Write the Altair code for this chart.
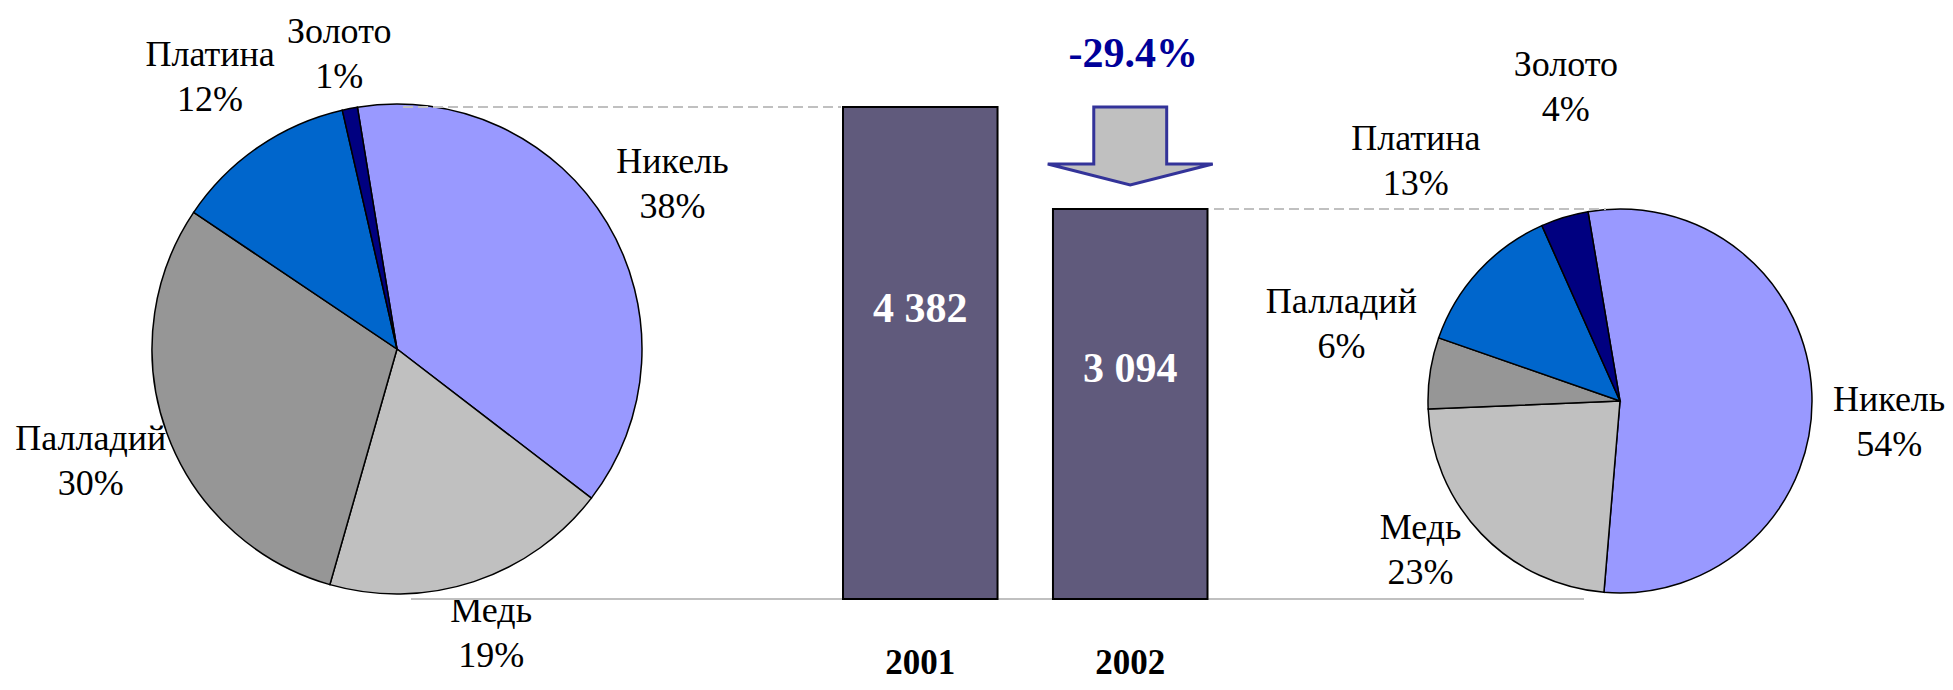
import math
import altair as alt
import pandas as pd

# ---------------- data ----------------
metals = ["Никель", "Медь", "Палладий", "Платина", "Золото"]
share_2001 = [38, 19, 30, 12, 1]
share_2002 = [54, 23, 6, 13, 4]
metal_colors = ["#9999FF", "#C0C0C0", "#969696", "#0066CC", "#000080"]

years = ["2001", "2002"]
totals = [4382, 3094]
axis_floor = -1831  # value axis minimum of the original column chart

FONT = "Liberation Serif"
LINE_H = 45


def pie_df(shares):
    return pd.DataFrame({
        "metal": metals,
        "share": shares,
        "idx": list(range(len(metals))),
        "label": [f"{m}\n{s}%" for m, s in zip(metals, shares)],
    })


def pie(df, cx, cy, r, start_deg, label_shift_deg, label_radii):
    start = math.radians(start_deg)
    lstart = math.radians(start_deg + label_shift_deg)
    theta = alt.Theta("share:Q", stack=True,
                      scale=alt.Scale(domain=[0, 100], nice=False, zero=True,
                                      range=[start, start + 2 * math.pi]))
    color = alt.Color("metal:N", scale=alt.Scale(domain=metals, range=metal_colors), legend=None)
    arcs = alt.Chart(df).mark_arc(x=cx, y=cy, outerRadius=r, stroke="black",
                                  strokeWidth=1.5).encode(
        theta=theta, color=color, order=alt.Order("idx:Q"))
    labels = alt.Chart(df).transform_window(
        cum="sum(share)", sort=[alt.SortField("idx", order="ascending")], frame=[None, 0]
    ).transform_calculate(
        mid="datum.cum - datum.share / 2"
    ).mark_text(x=cx, y=cy, dy=-LINE_H / 2, font=FONT, fontSize=36,
                lineBreak="\n", lineHeight=LINE_H, align="center",
                baseline="middle", color="black").encode(
        theta=alt.Theta("mid:Q", stack=None,
                        scale=alt.Scale(domain=[0, 100], nice=False, zero=True,
                                        range=[lstart, lstart + 2 * math.pi])),
        radius=alt.Radius("idx:Q", stack=None,
                          scale=alt.Scale(type="linear", domain=list(range(len(metals))),
                                          range=label_radii, zero=False, nice=False)),
        text="label:N")
    return alt.layer(arcs, labels).resolve_scale(theta="independent")


left_pie = pie(pie_df(share_2001), 389, 341, 245, 350.7, 0, [321, 300, 326, 330, 300])
right_pie = pie(pie_df(share_2002), 1612, 393, 192, 350.4, 7, [270, 249, 289, 315, 318])

bars_df = pd.DataFrame({
    "year": years,
    "total": totals,
    "label": [f"{v:,}".replace(",", " ") for v in totals],
})
change = (totals[1] / totals[0] - 1) * 100
change_label = f"{change:.1f}%"

x_scale = alt.Scale(domain=years, range=[835, 1199.5], paddingInner=0.264, paddingOuter=0)
y_scale = alt.Scale(domain=[axis_floor, max(totals)], range=[591, 99], nice=False, zero=False)
x_enc = alt.X("year:N", axis=None, scale=x_scale, sort=years)

base = alt.Chart(bars_df)

baseline = base.transform_filter(alt.datum.year == "2001").mark_rule(
    color="#C0C0C0", strokeWidth=2).encode(
    y=alt.YDatum(axis_floor, scale=y_scale, axis=None),
    x=alt.value(403), x2=alt.value(1576))

bars = base.mark_bar(color="#605A7C", stroke="black", strokeWidth=2).encode(
    x=x_enc,
    y=alt.Y("total:Q", axis=None, scale=y_scale),
    y2=alt.datum(axis_floor))

dash_left = base.transform_filter(alt.datum.year == "2001").mark_rule(
    color="#C0C0C0", strokeWidth=2, strokeDash=[10, 5]).encode(
    y=alt.Y("total:Q", axis=None, scale=y_scale),
    x=alt.value(395), x2=alt.value(833))

dash_right = base.transform_filter(alt.datum.year == "2002").mark_rule(
    color="#C0C0C0", strokeWidth=2, strokeDash=[10, 5]).encode(
    y=alt.Y("total:Q", axis=None, scale=y_scale),
    x=alt.value(1206), x2=alt.value(1598))

bar_text = base.transform_calculate(
    label_y=f"{axis_floor} + 0.59 * (datum.total - {axis_floor})"
).mark_text(font=FONT, fontSize=42, fontWeight="bold", color="white",
            align="center", baseline="middle").encode(
    x=x_enc,
    y=alt.Y("label_y:Q", axis=None, scale=y_scale),
    text="label:N")

year_text = base.mark_text(font=FONT, fontSize=35, fontWeight="bold", color="black",
                           align="center", baseline="alphabetic").encode(
    x=x_enc, y=alt.value(666), text="year:N")

ARROW = "M-0.442,-0.473L0.442,-0.473L0.442,0.218L1,0.218L0,0.473L-1,0.218L-0.442,0.218Z"
arrow = base.transform_filter(alt.datum.year == "2002").mark_point(
    shape=ARROW, size=165 * 165, filled=True, fill="#C0C0C0", stroke="#333399",
    strokeWidth=3, opacity=1, fillOpacity=1).encode(
    x=x_enc, y=alt.value(138))

change_text = base.transform_filter(alt.datum.year == "2002").mark_text(
    font=FONT, fontSize=42, fontWeight="bold", color="#000099",
    align="center", baseline="alphabetic", dx=3).encode(
    x=x_enc, y=alt.value(59), text=alt.value(change_label))

bar_part = alt.layer(baseline, dash_left, dash_right, bars, bar_text, year_text, arrow, change_text)

chart = alt.layer(left_pie, right_pie, bar_part).resolve_scale(
    theta="independent", radius="independent"
).properties(
    width=1937, height=674,
    autosize=alt.AutoSizeParams(type="none"),
    padding=0,
    background="white",
).configure(font=FONT).configure_text(font=FONT).configure_view(strokeWidth=0)

chart.save("out.html", embed_options={"renderer": "svg", "actions": False})
